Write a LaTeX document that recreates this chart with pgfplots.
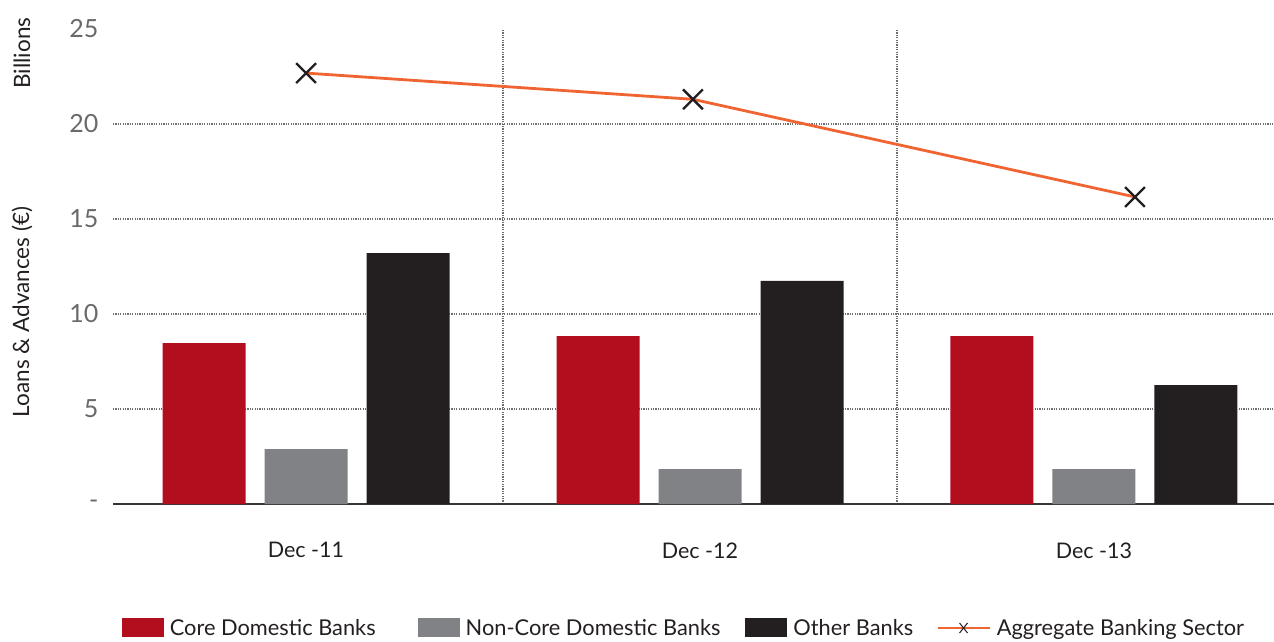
\documentclass[border=0pt]{standalone}
\usepackage{pgfplots}
\pgfplotsset{compat=1.18}
\usepackage{pgfplotstable}
\usepackage{fontspec}
\setmainfont{Lato}
\definecolor{corered}{RGB}{178,14,30}
\definecolor{ncgray}{RGB}{128,130,133}
\definecolor{othblack}{RGB}{35,31,32}
\definecolor{aggorange}{RGB}{240,100,50}
\definecolor{gridgray}{RGB}{110,110,110}
\definecolor{ticklab}{RGB}{105,105,105}

\pgfplotstableread{
x core noncore other
0 8.47 2.89 13.2
1 8.84 1.84 11.74
2 8.84 1.84 6.26
}\bars
\pgfplotstableread{
x agg
0 22.68
0.982 21.3
2.104 16.16
}\agg

\begin{document}
\begin{tikzpicture}
\begin{axis}[
 at={(0,0)}, anchor=south west,
 scale only axis, width=1161pt, height=475pt,
 xmin=-0.49, xmax=2.457, ymin=0, ymax=25,
 axis x line*=bottom, axis y line*=left,
 x axis line style={line width=2.8pt, draw=othblack!90, -},
 y axis line style={draw=none},
 xtick={0,1,2}, xticklabels={Dec -11, Dec -12, Dec -13},
 minor xtick={0.5,1.5}, xminorgrids,
 ytick={0,5,...,25}, yticklabels={-,5,10,15,20,25},
 minor ytick={5,10,15,20}, yminorgrids,
 major tick length=0pt, minor tick length=0pt,
 minor grid style={dash pattern=on 1.2pt off 1.2pt, gridgray, line width=1.2pt},
 xticklabel style={font=\fontsize{21.5}{25}\selectfont, text=othblack, yshift=-35pt},
 yticklabel style={font=\fontsize{25}{29}\selectfont, text=ticklab, xshift=-11pt},
 legend style={at={(0.4918,-0.261)}, anchor=center, draw=none, fill=none,
   font=\fontsize{21.8}{25}\selectfont, text=othblack,
   /tikz/every odd column/.append style={column sep=4pt},
   /tikz/every even column/.append style={column sep=21pt}},
 legend columns=4,
]
\addplot[ybar, bar width=83pt, bar shift=-102pt, fill=corered, draw=none,
  legend image code/.code={\fill[corered] (0pt,-9.5pt) rectangle (42pt,9.5pt);}]
  table[x=x, y=core] {\bars};
\addlegendentry{Core Domestic Banks\kern19pt}
\addplot[ybar, bar width=83pt, bar shift=0pt, fill=ncgray, draw=none,
  legend image code/.code={\fill[ncgray] (0pt,-9.5pt) rectangle (42pt,9.5pt);}]
  table[x=x, y=noncore] {\bars};
\addlegendentry{Non-Core Domestic Banks\kern2pt}
\addplot[ybar, bar width=83pt, bar shift=102pt, fill=othblack, draw=none,
  legend image code/.code={\fill[othblack] (0pt,-9.5pt) rectangle (42pt,9.5pt);}]
  table[x=x, y=other] {\bars};
\addlegendentry{Other Banks}
\addplot[aggorange, line width=2.8pt, mark=x, mark size=14pt,
  mark options={draw=othblack, line width=2.3pt},
  legend image code/.code={\draw[aggorange, line width=2.5pt] (0pt,0pt) -- (52pt,0pt);
    \draw[othblack, line width=1pt] (22pt,-5pt) -- (30pt,5pt) (22pt,5pt) -- (30pt,-5pt);}]
  table[x=x, y=agg] {\agg};
\addlegendentry{Aggregate Banking Sector}
\end{axis}
\node[rotate=90, font=\fontsize{22.5}{26}\selectfont, text=othblack] at (-91pt,192pt) {Loans \& Advances (€)};
\node[rotate=90, font=\fontsize{22.5}{26}\selectfont, text=othblack] at (-91pt,451pt) {Billions};
\pgfresetboundingbox
\path[use as bounding box] (-113pt,-137pt) rectangle (1161pt,504pt);
\end{tikzpicture}
\end{document}
